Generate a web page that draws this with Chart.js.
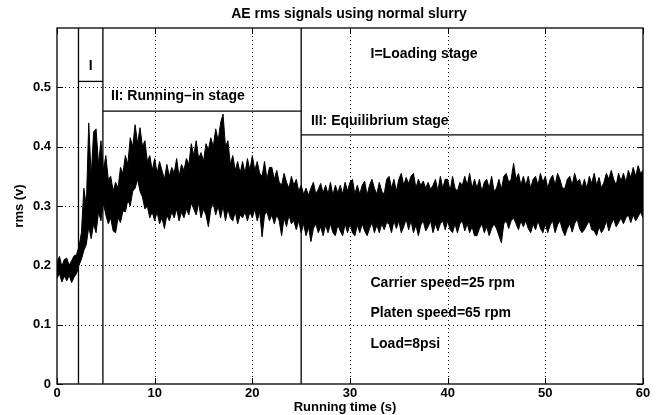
<!DOCTYPE html>
<html><head><meta charset="utf-8">
<script src="https://cdn.jsdelivr.net/npm/chart.js@4"></script>
<style>html,body{margin:0;padding:0;background:#fff}#w{width:660px;height:415px}</style>
</head><body><div id="w"><canvas id="c" width="660" height="415"></canvas></div>
<script>
// Sample step (s) of the envelope readings
const sampleStep = 0.25;
// Upper envelope of the rms signal (V), one value per 0.25 s from 0 to 60 s (5 s per row)
const upperEnv = [
0.205,0.215,0.198,0.21, 0.212,0.2,0.208,0.216, 0.218,0.232,0.255,0.33, 0.30,0.44,0.35,0.425, 0.43,0.37,0.41,0.36,
0.385,0.345,0.35,0.325, 0.34,0.33,0.365,0.355, 0.385,0.37,0.415,0.40, 0.437,0.405,0.432,0.40, 0.41,0.375,0.385,0.36,
0.38,0.355,0.375,0.36, 0.345,0.37,0.35,0.365, 0.355,0.38,0.35,0.37, 0.36,0.38,0.37,0.405, 0.385,0.41,0.38,0.39,
0.375,0.405,0.395,0.415, 0.40,0.43,0.41,0.44, 0.455,0.40,0.41,0.37, 0.385,0.36,0.375,0.355, 0.375,0.355,0.38,0.36,
0.385,0.36,0.375,0.355, 0.35,0.375,0.345,0.365, 0.365,0.345,0.36,0.34, 0.335,0.355,0.34,0.33, 0.35,0.335,0.345,0.325,
0.335,0.32,0.33,0.318, 0.33,0.34,0.32,0.328, 0.338,0.322,0.335,0.32, 0.34,0.318,0.335,0.322, 0.335,0.32,0.34,0.325,
0.34,0.345,0.32,0.335, 0.32,0.335,0.342,0.318, 0.335,0.345,0.33,0.32, 0.34,0.325,0.32,0.345, 0.35,0.33,0.345,0.325,
0.345,0.355,0.335,0.348, 0.338,0.35,0.355,0.33, 0.345,0.335,0.342,0.33, 0.34,0.328,0.335,0.345, 0.325,0.35,0.33,0.345,
0.345,0.325,0.35,0.33, 0.325,0.34,0.335,0.35, 0.335,0.355,0.33,0.345, 0.33,0.345,0.325,0.34, 0.345,0.33,0.35,0.325,
0.33,0.345,0.328,0.35, 0.355,0.34,0.345,0.372, 0.345,0.355,0.335,0.35, 0.335,0.35,0.33,0.345, 0.35,0.335,0.355,0.34,
0.35,0.33,0.345,0.352, 0.335,0.355,0.345,0.33, 0.33,0.345,0.35,0.335, 0.355,0.34,0.345,0.33, 0.345,0.33,0.35,0.338,
0.355,0.335,0.348,0.33, 0.34,0.355,0.345,0.36, 0.345,0.335,0.355,0.342, 0.355,0.34,0.36,0.348, 0.365,0.35,0.368,0.355,
0.36];
// Lower envelope of the rms signal (V), same sampling
const lowerEnv = [
0.178,0.186,0.172,0.182, 0.174,0.183,0.171,0.18, 0.186,0.2,0.21,0.225, 0.235,0.265,0.245,0.27, 0.255,0.29,0.275,0.305,
0.285,0.27,0.28,0.258, 0.255,0.28,0.272,0.292, 0.29,0.31,0.3,0.325, 0.33,0.345,0.325,0.315, 0.295,0.3,0.28,0.29,
0.275,0.29,0.27,0.28, 0.262,0.285,0.275,0.29, 0.28,0.295,0.275,0.29, 0.28,0.295,0.285,0.305, 0.295,0.285,0.305,0.28,
0.295,0.285,0.265,0.295, 0.305,0.285,0.30,0.28, 0.30,0.275,0.295,0.28, 0.275,0.29,0.27,0.285, 0.28,0.29,0.275,0.29,
0.28,0.295,0.275,0.29, 0.248,0.285,0.29,0.275, 0.285,0.27,0.285,0.275, 0.25,0.28,0.265,0.285, 0.27,0.275,0.26,0.275,
0.255,0.27,0.25,0.265, 0.24,0.262,0.27,0.255, 0.265,0.25,0.268,0.255, 0.27,0.255,0.25,0.268, 0.258,0.25,0.27,0.255,
0.27,0.255,0.25,0.268, 0.255,0.27,0.258,0.25, 0.262,0.272,0.255,0.268, 0.255,0.27,0.26,0.272, 0.27,0.255,0.275,0.262,
0.275,0.255,0.265,0.278, 0.26,0.275,0.255,0.268, 0.25,0.268,0.275,0.258, 0.265,0.275,0.255,0.27, 0.258,0.27,0.275,0.26,
0.275,0.26,0.255,0.27, 0.255,0.27,0.275,0.258, 0.27,0.255,0.265,0.25, 0.25,0.262,0.27,0.255, 0.265,0.25,0.262,0.27,
0.262,0.25,0.238,0.27, 0.275,0.262,0.275,0.28, 0.27,0.26,0.275,0.265, 0.275,0.262,0.255,0.27, 0.26,0.275,0.262,0.255,
0.27,0.255,0.268,0.275, 0.255,0.268,0.275,0.26, 0.25,0.262,0.27,0.256, 0.27,0.278,0.262,0.255, 0.26,0.268,0.275,0.26,
0.258,0.25,0.265,0.255, 0.262,0.275,0.258,0.27, 0.278,0.265,0.272,0.28, 0.27,0.28,0.285,0.272, 0.285,0.275,0.282,0.29,
0.28];
// Stage boundaries (s) and stage marker levels (V)
const stageBounds = [2.2, 4.7, 25];
const stageMarks = [
  {from: 2.2, to: 4.7, level: 0.51},
  {from: 4.7, to: 25, level: 0.46},
  {from: 25, to: 60, level: 0.42}
];
const xTicks = [0, 10, 20, 30, 40, 50, 60];
const yTicks = [0, 0.1, 0.2, 0.3, 0.4, 0.5];
const notes = [
  {text: 'I', x: 3.45, y: 0.535, align: 'center'},
  {text: 'II: Running\u2013in stage', x: 5.53, y: 0.4855, align: 'left'},
  {text: 'III: Equilibrium stage', x: 26.0, y: 0.443, align: 'left'},
  {text: 'I=Loading stage', x: 32.1, y: 0.5565, align: 'left'},
  {text: 'Carrier speed=25 rpm', x: 32.1, y: 0.1698, align: 'left'},
  {text: 'Platen speed=65 rpm', x: 32.1, y: 0.1187, align: 'left'},
  {text: 'Load=8psi', x: 32.1, y: 0.068, align: 'left'}
];
const titleText = 'AE rms signals using normal slurry';
const xTitle = 'Running time (s)';
const yTitle = 'rms (v)';

const FONT = '"Liberation Sans", Arial, Helvetica, sans-serif';
const TXT = 'bold 14px ' + FONT;

const upperPts = upperEnv.map((v, i) => ({x: i * sampleStep, y: v}));
const lowerPts = lowerEnv.map((v, i) => ({x: i * sampleStep, y: v}));

const datasets = [
  {data: upperPts, borderColor: '#000', borderWidth: 1, pointRadius: 0, fill: false},
  {data: lowerPts, borderColor: '#000', borderWidth: 1, pointRadius: 0, fill: '-1', backgroundColor: '#000'}
];
stageBounds.forEach(b => datasets.push({data: [{x: b, y: 0}, {x: b, y: 0.6}], borderColor: '#000', borderWidth: 1.3, pointRadius: 0, fill: false}));
stageMarks.forEach(m => datasets.push({data: [{x: m.from, y: m.level}, {x: m.to, y: m.level}], borderColor: '#000', borderWidth: 1.3, pointRadius: 0, fill: false}));

const decor = {
  id: 'decor',
  beforeDatasetsDraw(chart) {
    const {ctx, chartArea: a, scales: {x, y}} = chart;
    ctx.save();
    ctx.strokeStyle = '#000';
    ctx.lineWidth = 1;
    ctx.setLineDash([1, 3]);
    xTicks.slice(1, -1).forEach(t => {
      const px = Math.round(x.getPixelForValue(t)) + 0.5;
      ctx.beginPath(); ctx.moveTo(px, a.top); ctx.lineTo(px, a.bottom); ctx.stroke();
    });
    yTicks.slice(1).forEach(t => {
      const py = Math.round(y.getPixelForValue(t)) + 0.5;
      ctx.beginPath(); ctx.moveTo(a.left, py); ctx.lineTo(a.right, py); ctx.stroke();
    });
    ctx.restore();
  },
  afterDatasetsDraw(chart) {
    const {ctx, chartArea: a, scales: {x, y}} = chart;
    ctx.save();
    ctx.strokeStyle = '#000';
    ctx.lineWidth = 1.3;
    ctx.strokeRect(a.left, a.top, a.right - a.left, a.bottom - a.top);
    ctx.lineWidth = 1;
    const L = 6;
    xTicks.forEach(t => {
      const px = Math.round(x.getPixelForValue(t)) + 0.5;
      ctx.beginPath(); ctx.moveTo(px, a.bottom); ctx.lineTo(px, a.bottom - L);
      ctx.moveTo(px, a.top); ctx.lineTo(px, a.top + L); ctx.stroke();
    });
    yTicks.forEach(t => {
      const py = Math.round(y.getPixelForValue(t)) + 0.5;
      ctx.beginPath(); ctx.moveTo(a.left, py); ctx.lineTo(a.left + L, py);
      ctx.moveTo(a.right, py); ctx.lineTo(a.right - L, py); ctx.stroke();
    });
    ctx.fillStyle = '#000';
    ctx.font = TXT;
    ctx.textBaseline = 'middle';
    notes.forEach(n => {
      ctx.textAlign = n.align;
      ctx.fillText(n.text, x.getPixelForValue(n.x), y.getPixelForValue(n.y));
    });
    ctx.textAlign = 'center';
    ctx.fillText(titleText, 349, 14);
    ctx.font = 'bold 13px ' + FONT;
    ctx.fillText(xTitle, 345, 407);
    ctx.translate(19, 206);
    ctx.rotate(-Math.PI / 2);
    ctx.fillText(yTitle, 0, 0);
    ctx.restore();
  }
};

new Chart(document.getElementById('c'), {
  type: 'line',
  data: {datasets},
  options: {
    responsive: false,
    animation: false,
    devicePixelRatio: 1,
    layout: {padding: {top: 28, right: 17, left: 0, bottom: 0}},
    plugins: {legend: {display: false}, tooltip: {enabled: false}, title: {display: false}},
    scales: {
      x: {
        type: 'linear', min: 0, max: 60,
        afterBuildTicks: s => { s.ticks = xTicks.map(v => ({value: v})); },
        afterFit: s => { s.height = 31; },
        grid: {display: false, drawTicks: false}, border: {display: false},
        ticks: {color: '#000', font: {size: 13, weight: 'bold', family: FONT}, padding: 2, maxRotation: 0,
          callback: v => String(v)}
      },
      y: {
        type: 'linear', min: 0, max: 0.6,
        afterBuildTicks: s => { s.ticks = yTicks.map(v => ({value: v})); },
        afterFit: s => { s.width = 57; },
        grid: {display: false, drawTicks: false}, border: {display: false},
        ticks: {color: '#000', font: {size: 13, weight: 'bold', family: FONT}, padding: 6,
          callback: v => (v === 0 ? '0' : String(Math.round(v * 10) / 10))}
      }
    }
  },
  plugins: [decor]
});
</script></body></html>
